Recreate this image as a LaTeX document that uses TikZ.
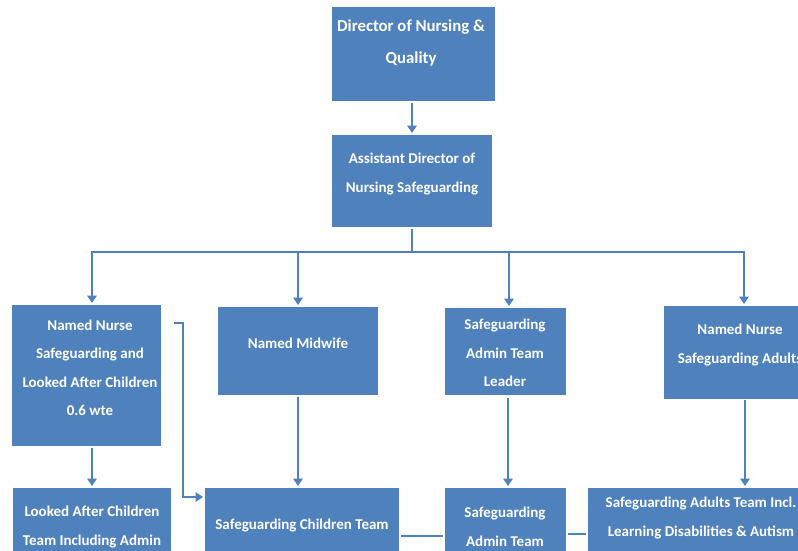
\documentclass[tikz,border=0pt]{standalone}
\usepackage{fontspec}
\setmainfont{Carlito}
\usetikzlibrary{arrows.meta,shadows}
\definecolor{boxblue}{RGB}{79,129,189}
\definecolor{lineblue}{RGB}{79,129,189}
\tikzset{
  box/.style={rectangle, fill=boxblue, draw=white, line width=2pt,
    drop shadow={opacity=0.35, shadow xshift=0.8pt, shadow yshift=-0.8pt},
    inner sep=0pt},
  txt/.style={text=white, align=center, inner sep=0pt,
    font=\fontsize{15}{28.5}\selectfont\bfseries},
  bigtxt/.style={txt, font=\fontsize{16.8}{32}\selectfont\bfseries},
  arr/.style={draw=lineblue, line width=2.6pt,
    -{Triangle[width=9.5pt,length=7.5pt]}},
  bus/.style={draw=lineblue, line width=2.6pt},
  thin/.style={draw=lineblue, line width=1.3pt}
}
\begin{document}
\begin{tikzpicture}[x=1pt,y=-1pt]
\useasboundingbox[fill=white] (0,0) rectangle (798,550);
% boxes
\node[box, minimum width=165pt, minimum height=96pt] (dir) at (413.5,54) {};
\node[bigtxt] (dirt) at (411,43) {Director of Nursing \&\\Quality};
\node[box, minimum width=162pt, minimum height=94pt] (asst) at (412,181) {};
\node[txt] (asstt) at (412,174) {Assistant Director of\\Nursing Safeguarding};
\node[box, minimum width=151pt, minimum height=143pt] (nlac) at (86.5,375.5) {};
\node[txt] (nlact) at (90,368) {Named Nurse\\Safeguarding and\\Looked After Children\\0.6 wte};
\node[box, minimum width=162pt, minimum height=90pt] (mid) at (298,351) {};
\node[txt] (midt) at (298,343) {Named Midwife};
\node[box, minimum width=123pt, minimum height=89pt] (adl) at (505.5,351.5) {};
\node[txt] (adlt) at (505,353) {Safeguarding\\Admin Team\\Leader};
\node[box, minimum width=154pt, minimum height=95pt] (nad) at (740,352.5) {};
\node[txt] (nadt) at (740,345) {Named Nurse\\Safeguarding Adults};
\node[box, minimum width=160pt, minimum height=90pt] (lact) at (92,532) {};
\node[txt] (lactt) at (92,527) {Looked After Children\\Team Including Admin};
\node[box, minimum width=196pt, minimum height=90pt] (sct) at (302,532) {};
\node[txt] (sctt) at (302,525) {Safeguarding Children Team};
\node[box, minimum width=123pt, minimum height=90pt] (sat) at (505.5,532) {};
\node[txt] (satt) at (505,527) {Safeguarding\\Admin Team};
\node[box, minimum width=228pt, minimum height=90pt] (sadt) at (701,532) {};
\node[txt] (sadtt) at (701,518) {Safeguarding Adults Team Incl.\\Learning Disabilities \& Autism};
% connectors
\draw[arr] (asst.north |- dir.south) -- (asst.north);
\coordinate (bc) at (412,252);
\coordinate (b1) at (92,252);
\coordinate (b2) at (298,252);
\coordinate (b3) at (509,252);
\coordinate (b4) at (744,252);
\draw[bus] (asst.south) -- (bc);
\draw[bus] ([xshift=-1.3pt]b1) -- ([xshift=1.3pt]b4);
\draw[arr] (b1) -- (b1 |- nlac.north);
\draw[arr] (b2) -- (b2 |- mid.north);
\draw[arr] (b3) -- (b3 |- adl.north);
\draw[arr] (b4) -- (b4 |- nad.north);
\draw[arr] (nlac.south -| b1) -- (b1 |- lact.north);
\draw[arr] (mid.south) -- (mid.south |- sct.north);
\coordinate (a3) at (508,398);
\draw[arr] (a3) -- (a3 |- sat.north);
\coordinate (a4) at (745,400);
\draw[arr] (a4) -- (a4 |- sadt.north);
\coordinate (e1) at (174,323);
\coordinate (e2) at (183,497);
\draw[arr] (e1) -| (e2) -- (e2 -| sct.west);
\coordinate (t1) at (400,536);
\coordinate (t2) at (567,534);
\draw[thin] (t1 -| sct.east) -- (t1 -| sat.west);
\draw[thin] (t2 -| sat.east) -- (t2 -| sadt.west);
\end{tikzpicture}
\end{document}
